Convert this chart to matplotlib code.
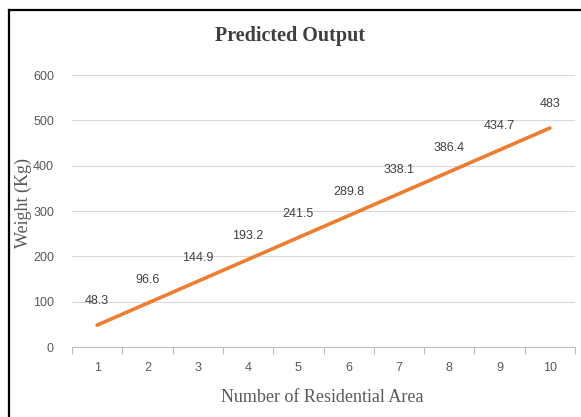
"""
Predicted output line chart - weight by number of residential areas.
"""
import matplotlib
matplotlib.use('Agg')
import matplotlib.pyplot as plt
from matplotlib.lines import Line2D
from matplotlib.ticker import FixedLocator

# Data
areas = [1, 2, 3, 4, 5, 6, 7, 8, 9, 10]
weights = [48.3, 96.6, 144.9, 193.2, 241.5, 289.8, 338.1, 386.4, 434.7, 483]
y_ticks = [0, 100, 200, 300, 400, 500, 600]

# Palette
ORANGE = '#ED7D31'
TXT = '#595959'
GRID = '#D9D9D9'
AXIS = '#BFBFBF'
SERIF = 'Liberation Serif'
SANS = 'Liberation Sans'

fig = plt.figure(figsize=(5.81, 4.17), dpi=100)
fig.patch.set_facecolor('white')
ax = fig.add_axes([72 / 581, 1 - 347 / 417, (575 - 72) / 581, (347 - 75) / 417])

ax.plot(areas, weights, color=ORANGE, lw=2.6, solid_capstyle='round')
for x, y in zip(areas, weights):
    lbl = f'{y:g}'
    ax.annotate(lbl, (x, y), xytext=(0, 17), textcoords='offset points',
                ha='center', va='center', fontsize=9, color='#404040',
                family=SANS)

ax.set_xlim(0.5, 10.5)
ax.set_ylim(0, 600)
ax.set_xticks(areas)
ax.set_xticklabels([str(a) for a in areas], fontsize=9, color=TXT, family=SANS)
ax.xaxis.set_minor_locator(FixedLocator([a - 0.5 for a in areas] + [10.5]))
ax.tick_params(axis='x', which='major', length=0, pad=11)
ax.tick_params(axis='x', which='minor', length=5, color=AXIS, width=0.8)
ax.set_yticks(y_ticks)
ax.set_yticklabels([str(v) for v in y_ticks], fontsize=9, color=TXT, family=SANS)
ax.tick_params(axis='y', length=0, pad=13)

ax.grid(axis='y', color=GRID, lw=0.8)
ax.set_axisbelow(True)
for s in ['top', 'right', 'left']:
    ax.spines[s].set_visible(False)
ax.spines['bottom'].set_color(AXIS)
ax.spines['bottom'].set_linewidth(0.8)

fig.text(290 / 581, 1 - 36 / 417, 'Predicted Output', ha='center', va='center',
         fontsize=14.5, fontweight='bold', color='#404040', family=SERIF)
fig.text(322 / 581, 1 - 397 / 417, 'Number of Residential Area', ha='center',
         va='center', fontsize=13, color=TXT, family=SERIF)
fig.text(23 / 581, 1 - 203 / 417, 'Weight (Kg)', ha='center', va='center',
         rotation=90, fontsize=13, color=TXT, family=SERIF)

# black frame (left and top edges only, rest is cropped)
fig.add_artist(Line2D([9 / 581, 9 / 581], [0, 1 - 10 / 417], color='black', lw=1.6))
fig.add_artist(Line2D([9 / 581, 1], [1 - 10 / 417, 1 - 10 / 417], color='black', lw=1.6))

fig.savefig('out.png', dpi=100, facecolor='white')
plt.close(fig)
